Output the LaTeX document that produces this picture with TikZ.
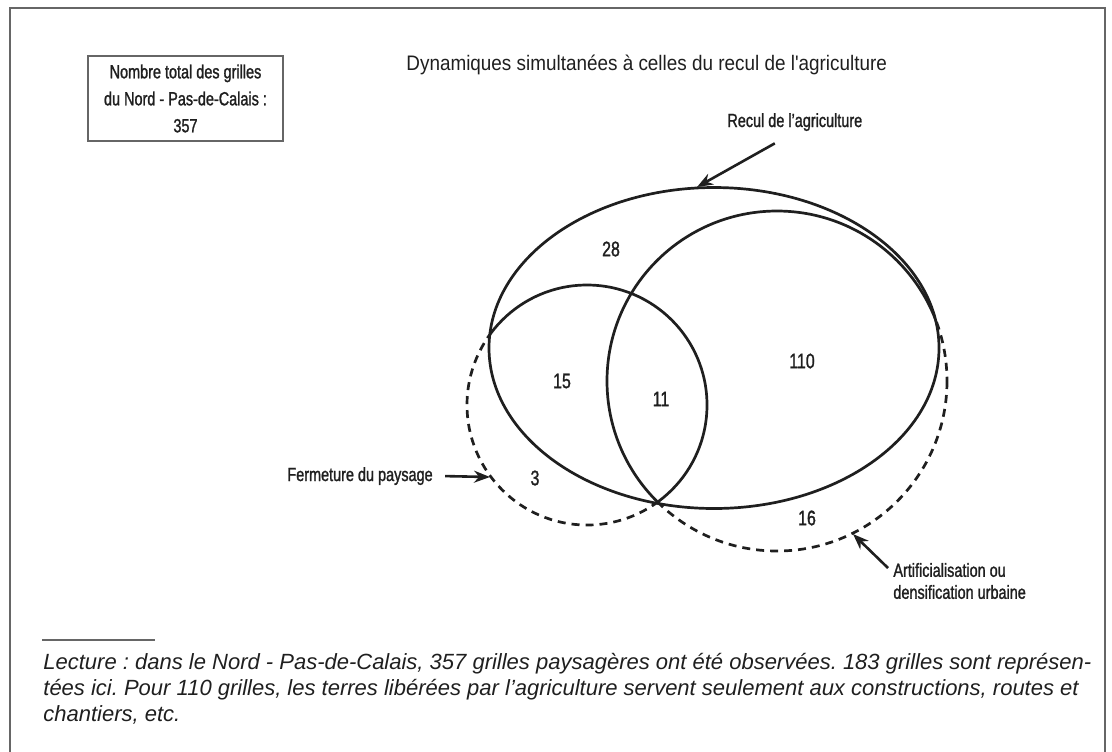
\documentclass[tikz,border=0pt]{standalone}
\usepackage{fontspec}
\setmainfont{Liberation Sans}
\usepackage{tikz}
\usetikzlibrary{arrows.meta}
\newfontfamily\labelfont[FakeStretch=0.76, FakeBold=1.3]{Liberation Sans}
\newfontfamily\titlefont[FakeStretch=0.9]{Liberation Sans}
\newfontfamily\notefont{Liberation Sans}
\definecolor{framegray}{gray}{0.4}
\definecolor{inkblack}{gray}{0.12}
\frenchspacing

\begin{document}
\begin{tikzpicture}[x=0.5pt, y=-0.5pt,
    venn/.style={line width=1.35pt, inkblack},
    venndash/.style={venn, dash pattern=on 4pt off 3pt},
    pointer/.style={line width=1.3pt, inkblack, -{Stealth[length=8pt,width=6pt]}},
    tag/.style={inner sep=0pt, text=inkblack, font=\labelfont\fontsize{9.5}{11}\selectfont},
    count/.style={inner sep=0pt, text=inkblack, font=\labelfont\fontsize{10.5}{12}\selectfont}]
        \useasboundingbox (0,0) rectangle (1112,751);
        % Frame
        \draw[framegray, line width=0.8pt] (10,770) -- (10,8) -- (1105,8) -- (1105,770);
        % Total
        \node[draw=framegray, line width=0.6pt, minimum width=97.5pt, minimum height=42.5pt,
            inner sep=0pt, align=center, text=inkblack, font=\labelfont\fontsize{9.5}{13.5}\selectfont]
            (total) at (185.5,98.5) {Nombre total des grilles\\du Nord - Pas-de-Calais :\\357};
        \node[anchor=base west, inner sep=0pt, text=inkblack, font=\titlefont\fontsize{10.5}{12}\selectfont]
            (title) at (406,70) {Dynamiques simultanées à celles du recul de l'agriculture};
        % Dashed parts outside the agriculture set
        \draw[venndash] (587,405) circle [radius=120];
        \draw[venndash] (777,381) circle [radius=170];
        \fill[white] (714,348) ellipse [x radius=225, y radius=160.5];
        % Solid parts inside
        \begin{scope}
            \clip (714,348) ellipse [x radius=225, y radius=160.5];
            \draw[venn] (587,405) circle [radius=120];
            \draw[venn] (777,381) circle [radius=170];
        \end{scope}
        \draw[venn] (714,348) ellipse [x radius=225, y radius=160.5];
        % Counts
        \node[count] (n28) at (611,249) {28};
        \node[count] (n15) at (562,381) {15};
        \node[count] (n11) at (661,399) {11};
        \node[count] (n110) at (802,361) {110};
        \node[count] (n3) at (535,478) {3};
        \node[count] (n16) at (807,518) {16};
        % Labels with arrows
        \node[tag, anchor=base west] (recul) at (727,127) {Recul de l’agriculture};
        \coordinate (recultip) at (697,187);
        \draw[pointer] ([shift={(-20,12)}]recul.south) -- (recultip);
        \node[tag, anchor=base west] (fermeture) at (287,481) {Fermeture du paysage};
        \coordinate (fermetip) at (490,477);
        \draw[pointer] ([xshift=6pt]fermeture.east) -- (fermetip);
        \node[tag, anchor=west, align=left] (artif) at (893,581) {Artificialisation ou\\densification urbaine};
        \coordinate (artiftip) at (853,534);
        \draw[pointer] ([shift={(-5,-13)}]artif.west) -- (artiftip);
        % Reading note
        \draw[framegray, line width=0.6pt] (42,640) -- (155,640);
        \node[anchor=north west, inner sep=0pt, align=left, text=inkblack,
            font=\notefont\itshape\fontsize{11}{13}\selectfont] (note) at (43,653)
            {Lecture : dans le Nord - Pas-de-Calais, 357 grilles paysagères ont été observées. 183 grilles sont représen-\\
            tées ici. Pour 110 grilles, les terres libérées par l’agriculture servent seulement aux constructions, routes et\\
            chantiers, etc.};
    \end{tikzpicture}
\end{document}
